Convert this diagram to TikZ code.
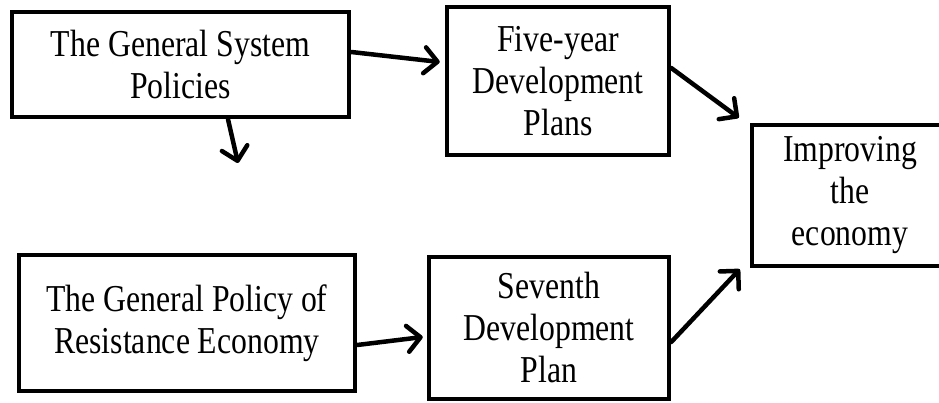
\documentclass[tikz,border=0pt]{standalone}
\usepackage{fontspec}
\setmainfont[FakeStretch=0.835]{Liberation Serif}
\usetikzlibrary{arrows.meta,positioning}
\begin{document}
\begin{tikzpicture}[x=1pt, y=-1pt,
		box/.style={draw, line width=4.5pt, align=center, inner sep=0pt, font=\fontsize{38}{42}\selectfont},
		link/.style={line width=4.5pt, line cap=round, -{Straight Barb[length=13pt, width=26pt, line width=4.5pt, round]}}]
			\useasboundingbox (0,0) rectangle (939,403);
			\node[box, minimum width=337pt, minimum height=105pt] (gsp) at (180.5,64.5) {The General System\\Policies};
			\node[box, minimum width=222pt, minimum height=148pt] (fyp) at (558,81) {Five-year\\Development\\Plans};
			\node[box, minimum width=196pt, minimum height=141pt] (imp) at (850,195.5) {Improving\\the\\economy};
			\node[box, minimum width=336pt, minimum height=136pt] (rep) at (187,323) {The General Policy of\\Resistance Economy};
			\node[box, minimum width=240pt, minimum height=142pt] (sdp) at (549,328) {Seventh\\Development\\Plan};
			\coordinate (dn) at (238,163);
			\draw [link] ([yshift=12.5pt]gsp.east) -- ([xshift=-5pt, yshift=19pt]fyp.west);
			\draw [link] ([xshift=47.5pt]gsp.south) -- (dn);
			\draw [link] ([yshift=13pt]fyp.east) -- ([xshift=-11pt, yshift=5pt]imp.north west);
			\draw [link] ([yshift=-22pt]rep.east) -- ([xshift=-4pt, yshift=-9pt]sdp.west);
			\draw [link] ([yshift=-14pt]sdp.east) -- ([xshift=-10pt, yshift=-1pt]imp.south west);
		\end{tikzpicture}
\end{document}
